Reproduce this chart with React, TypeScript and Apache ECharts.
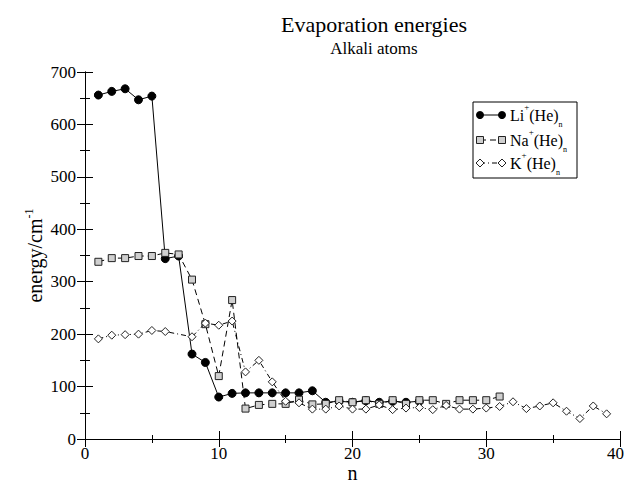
import React, { useEffect, useRef } from "react";
import * as echarts from "echarts";

const nValues = Array.from({ length: 39 }, (_, i) => i + 1);

const liValues: (number | null)[] = [
  656, 663, 668, 647, 654, 344, 349, 162, 146, 80, 87, 88, 88, 88, 88, 88, 92,
  70, 72, 70, 73, 70, 72, 70, 72,
];

const naValues: (number | null)[] = [
  338, 345, 345, 349, 349, 355, 352, 304, 219, 120, 265, 58, 65, 67, 67, 75, 66,
  67, 74, 70, 74, 67, 74, 67, 74, 74, 67, 74, 74, 74, 81,
];

const kValues: (number | null)[] = [
  191, 198, 199, 200, 207, 205, null, 195, 221, 217, 225, 128, 150, 109, 72, 69,
  57, 57, 63, 57, 57, 65, 56, 59, 60, 56, 64, 57, 57, 59, 62, 71, 58, 63, 69,
  53, 39, 63, 48,
];

const xTicks = [0, 10, 20, 30, 40];
const yTicks = [0, 100, 200, 300, 400, 500, 600, 700];

const FONT = "Liberation Serif";

function pairs(vals: (number | null)[]) {
  return vals.map((v, i) => [nValues[i], v]);
}

export default function App() {
  const ref = useRef<HTMLDivElement>(null);
  useEffect(() => {
    if (!ref.current) return;
    const chart = echarts.init(ref.current, null, { renderer: "svg" });
    const axisLine = { show: true, lineStyle: { color: "#000", width: 1 } };
    const xMax = xTicks[xTicks.length - 1];
    const xCommon = {
      type: "value" as const,
      min: xTicks[0],
      max: xMax,
      interval: 10,
      axisLine,
      axisTick: { show: true, inside: true, length: 8, lineStyle: { color: "#000" } },
      minorTick: { show: true, splitNumber: 2, length: 4, lineStyle: { color: "#000" } },
      splitLine: { show: false },
    };
    const yCommon = {
      type: "value" as const,
      min: yTicks[0],
      max: yTicks[yTicks.length - 1],
      interval: 100,
      axisLine,
      axisTick: { show: true, inside: true, length: 8, lineStyle: { color: "#000" } },
      minorTick: { show: true, splitNumber: 2, length: 5, lineStyle: { color: "#000" } },
      splitLine: { show: false },
    };
    const legendRich = {
      b: { fontFamily: FONT, fontSize: 16, color: "#000", lineHeight: 26 },
      sup: { fontFamily: FONT, fontSize: 9, color: "#000", verticalAlign: "top", lineHeight: 26 },
      sub: { fontFamily: FONT, fontSize: 8, color: "#000", verticalAlign: "bottom", lineHeight: 26 },
    };
    const lx1 = 480;
    const lx2 = 502;
    const rows = [115, 140, 163];
    chart.setOption({
      animation: false,
      backgroundColor: "#fff",
      title: [
        {
          text: "Evaporation energies",
          left: 369,
          top: 8,
          textAlign: "center",
          textStyle: { fontFamily: FONT, fontSize: 22, fontWeight: "normal", color: "#000" },
        },
        {
          text: "Alkali atoms",
          left: 369,
          top: 35,
          textAlign: "center",
          textStyle: { fontFamily: FONT, fontSize: 17, fontWeight: "normal", color: "#000" },
        },
      ],
      grid: { left: 85, right: 6, top: 72, bottom: 47, containLabel: false, outerBoundsMode: "none" },
      xAxis: [
        {
          ...xCommon,
          position: "bottom",
          name: "n",
          nameLocation: "middle",
          nameGap: 27,
          nameMoveOverlap: false,
          nameTextStyle: { fontFamily: FONT, fontSize: 20, color: "#000", lineHeight: 14 },
          axisLabel: {
            fontFamily: FONT,
            fontSize: 17,
            color: "#000",
            margin: 7,
            formatter: (v: number) => (v === xMax ? "{r|" + v + "}" : "{n|" + v + "}"),
            rich: {
              n: { fontFamily: FONT, fontSize: 17, color: "#000", lineHeight: 15 },
              r: { fontFamily: FONT, fontSize: 17, color: "#000", lineHeight: 15, padding: [0, 9, 0, 0] },
            },
          },
        },
        {
          ...xCommon,
          position: "top",
          axisLabel: { show: false },
        },
      ],
      yAxis: [
        {
          ...yCommon,
          position: "left",
          name: "{a|energy/cm}{s|-1}",
          nameLocation: "middle",
          nameRotate: 90,
          nameGap: 38,
          nameMoveOverlap: false,
          nameTextStyle: {
            rich: {
              a: { fontFamily: FONT, fontSize: 20, color: "#000", lineHeight: 24 },
              s: { fontFamily: FONT, fontSize: 12, color: "#000", verticalAlign: "top", lineHeight: 24 },
            },
          },
          axisLabel: { fontFamily: FONT, fontSize: 17, color: "#000", margin: 9 },
        },
        {
          ...yCommon,
          position: "right",
          axisLabel: { show: false },
        },
      ],
      series: [
        {
          name: "Li",
          type: "line",
          data: pairs(liValues),
          symbol: "circle",
          symbolSize: 8,
          showAllSymbol: true,
          itemStyle: { color: "#000", borderColor: "#000", borderWidth: 1 },
          lineStyle: { color: "#000", width: 1 },
          z: 2,
        },
        {
          name: "Na",
          type: "line",
          data: pairs(naValues),
          symbol: "rect",
          symbolSize: 7,
          showAllSymbol: true,
          itemStyle: { color: "#cfcfcf", borderColor: "#222", borderWidth: 1 },
          lineStyle: { color: "#000", width: 1, type: [6, 4] },
          z: 3,
        },
        {
          name: "K",
          type: "line",
          data: pairs(kValues),
          connectNulls: true,
          symbol: "diamond",
          symbolSize: 8,
          showAllSymbol: true,
          itemStyle: { color: "#fff", borderColor: "#222", borderWidth: 1 },
          lineStyle: { color: "#000", width: 1, type: [5, 3, 1, 3] },
          z: 4,
        },
      ],
      graphic: [
        {
          type: "group",
          children: [
            {
              type: "rect",
              shape: { x: 473, y: 102, width: 104, height: 76 },
              style: { fill: "#fff", stroke: "#000", lineWidth: 1 },
            },
            { type: "line", shape: { x1: lx1, y1: rows[0], x2: lx2, y2: rows[0] }, style: { stroke: "#000", lineWidth: 1 } },
            { type: "circle", shape: { cx: lx1, cy: rows[0], r: 4 }, style: { fill: "#000" } },
            { type: "circle", shape: { cx: lx2, cy: rows[0], r: 4 }, style: { fill: "#000" } },
            {
              type: "text",
              x: 510,
              y: rows[0],
              style: { text: "{b|Li}{sup|+}{b|(He)}{sub|n}", rich: legendRich, verticalAlign: "middle" },
            },
            { type: "line", shape: { x1: lx1, y1: rows[1], x2: lx2, y2: rows[1] }, style: { stroke: "#000", lineWidth: 1, lineDash: [6, 4] } },
            { type: "rect", shape: { x: lx1 - 3.5, y: rows[1] - 3.5, width: 7, height: 7 }, style: { fill: "#cfcfcf", stroke: "#222", lineWidth: 1 } },
            { type: "rect", shape: { x: lx2 - 3.5, y: rows[1] - 3.5, width: 7, height: 7 }, style: { fill: "#cfcfcf", stroke: "#222", lineWidth: 1 } },
            {
              type: "text",
              x: 510,
              y: rows[1],
              style: { text: "{b|Na}{sup|+}{b|(He)}{sub|n}", rich: legendRich, verticalAlign: "middle" },
            },
            { type: "line", shape: { x1: lx1, y1: rows[2], x2: lx2, y2: rows[2] }, style: { stroke: "#000", lineWidth: 1, lineDash: [5, 3, 1, 3] } },
            {
              type: "polygon",
              shape: { points: [[lx1, rows[2] - 4], [lx1 + 4, rows[2]], [lx1, rows[2] + 4], [lx1 - 4, rows[2]]] },
              style: { fill: "#fff", stroke: "#222", lineWidth: 1 },
            },
            {
              type: "polygon",
              shape: { points: [[lx2, rows[2] - 4], [lx2 + 4, rows[2]], [lx2, rows[2] + 4], [lx2 - 4, rows[2]]] },
              style: { fill: "#fff", stroke: "#222", lineWidth: 1 },
            },
            {
              type: "text",
              x: 510,
              y: rows[2],
              style: { text: "{b|K}{sup|+}{b|(He)}{sub|n}", rich: legendRich, verticalAlign: "middle" },
            },
          ],
        },
      ],
    });
    return () => chart.dispose();
  }, []);
  return (
    <div
      ref={ref}
      style={{ position: "fixed", left: 0, top: 0, width: 626, height: 486, background: "#fff" }}
    />
  );
}
